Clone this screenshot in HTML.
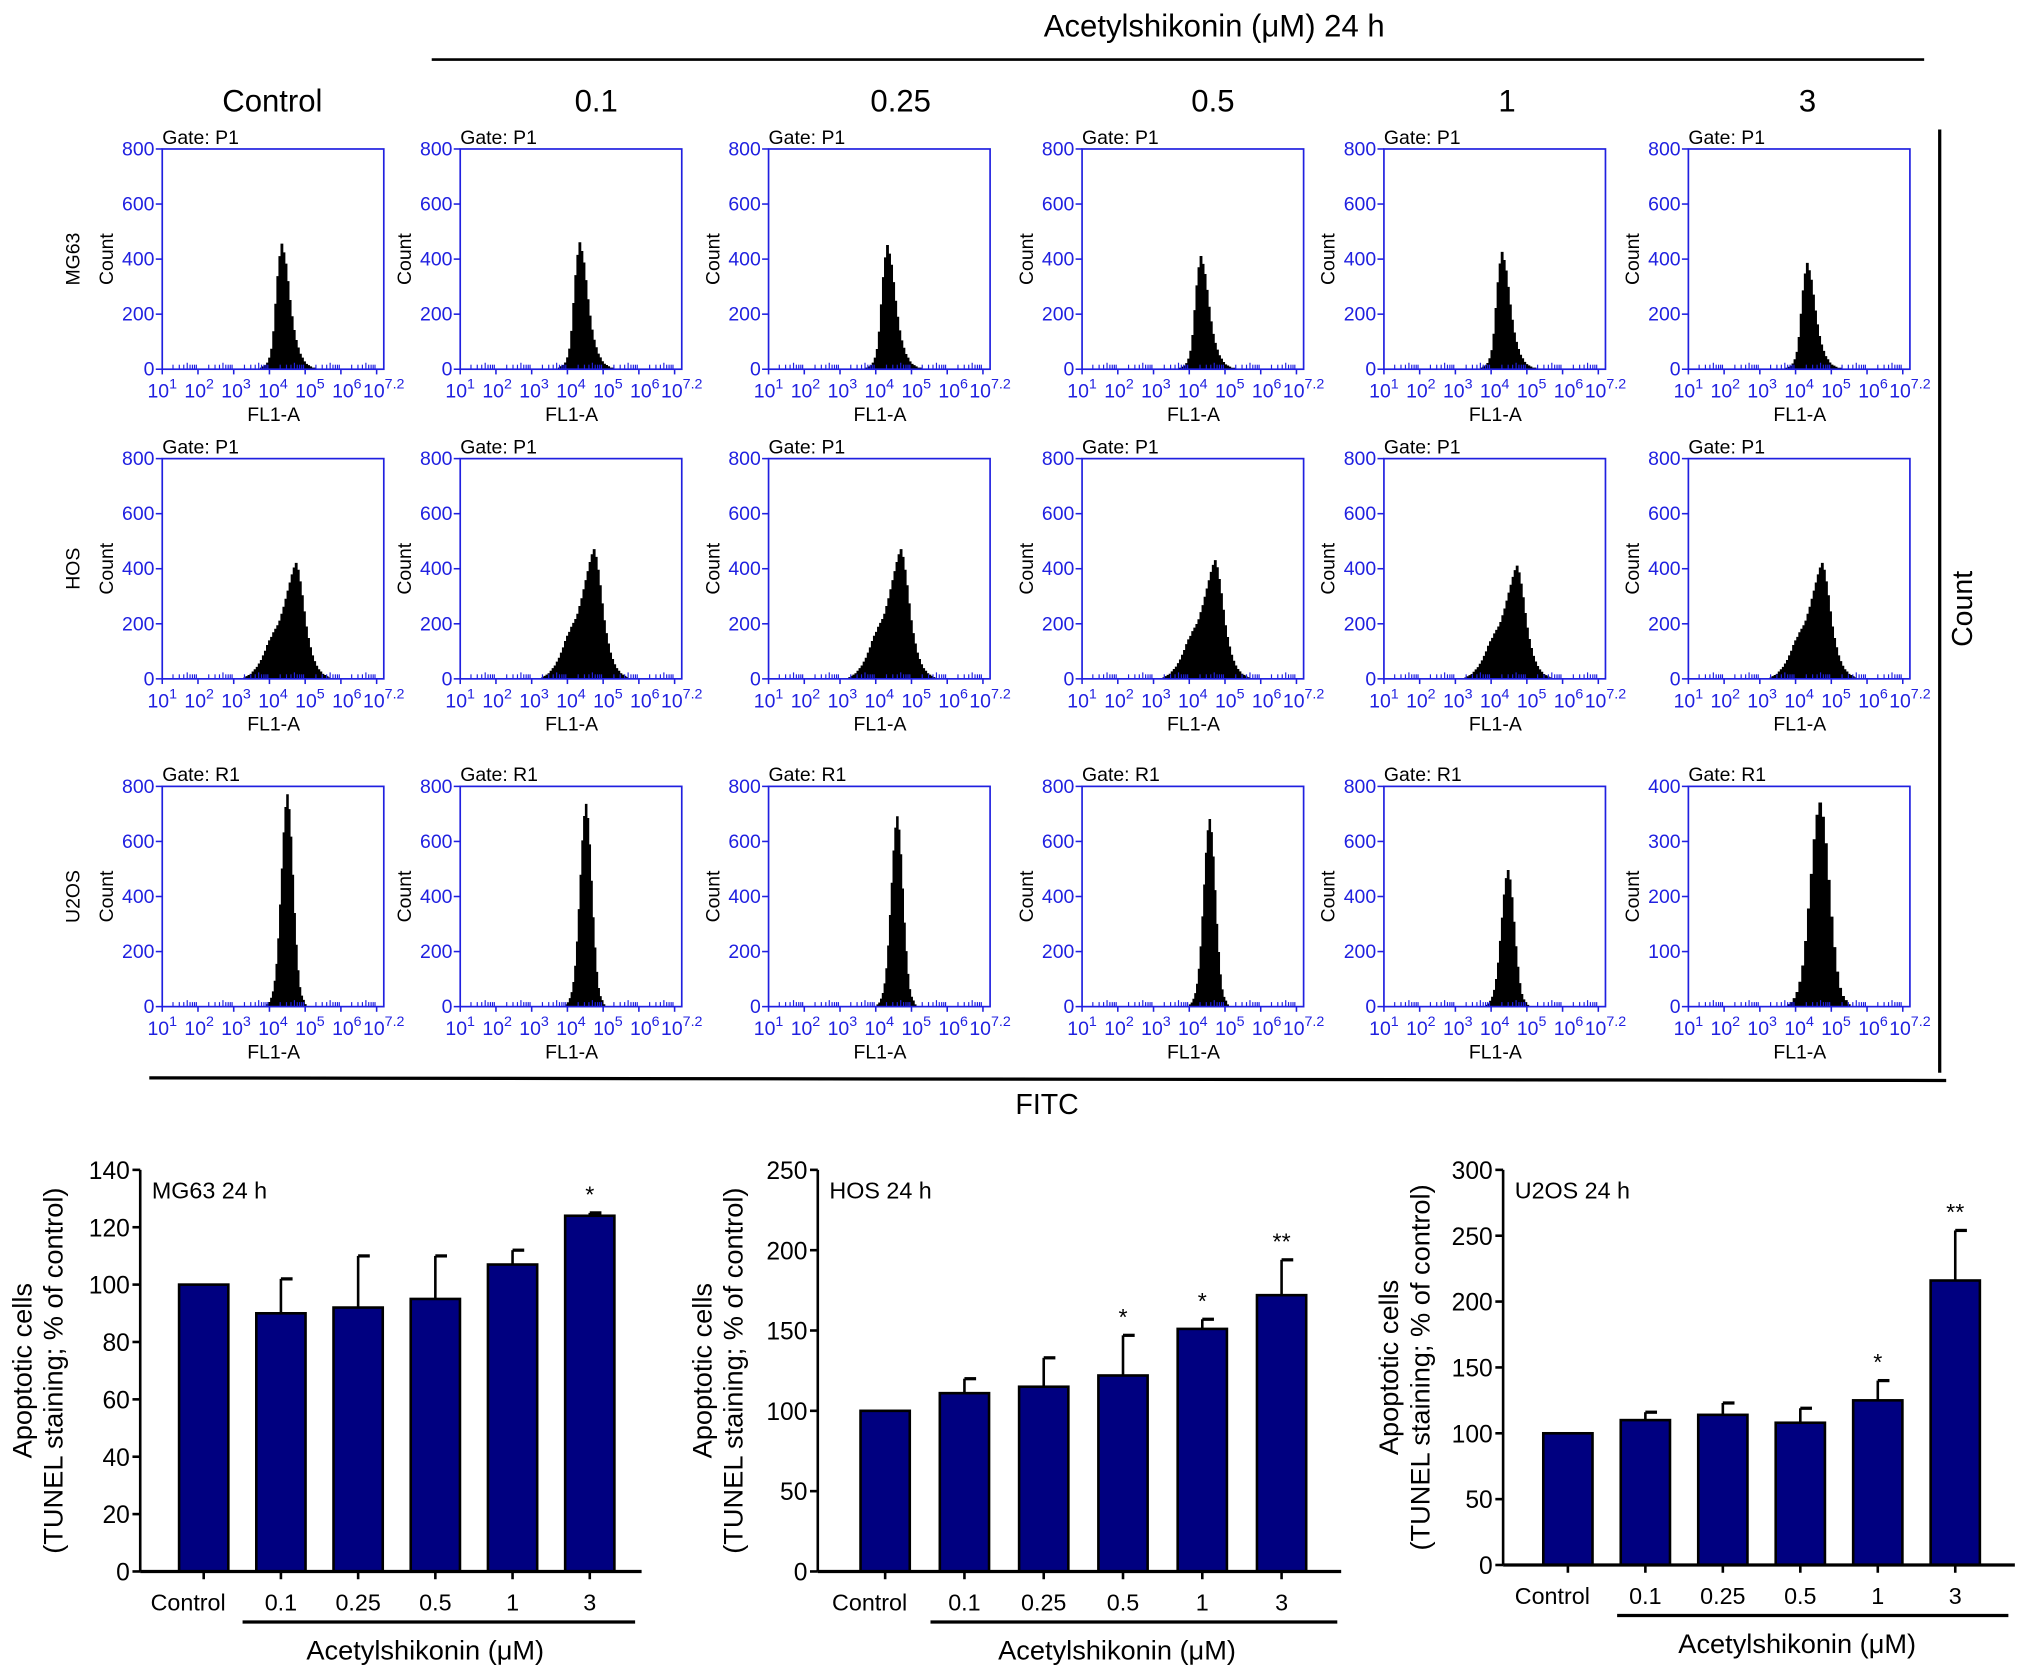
<!DOCTYPE html>
<html><head><meta charset="utf-8">
<style>
html,body{margin:0;padding:0;background:#fff;}
svg{display:block;font-family:"Liberation Sans",Arial,sans-serif;}
</style></head>
<body>
<svg id="fig" width="2032" height="1679" viewBox="0 0 1568 1296" xmlns="http://www.w3.org/2000/svg">
<text x="937" y="28" font-size="24" text-anchor="middle">Acetylshikonin (μM) 24 h</text>
<line x1="333" y1="46" x2="1485" y2="46" stroke="#000" stroke-width="2"/>
<g id="heads"></g>
<g id="hists"></g>
<line x1="1497" y1="100" x2="1497" y2="828" stroke="#000" stroke-width="2.5"/>
<text transform="translate(1522,470) rotate(-90)" font-size="22" text-anchor="middle">Count</text>
<line x1="115" y1="832" x2="1502" y2="834" stroke="#000" stroke-width="2.5"/>
<text x="808" y="860" font-size="22" text-anchor="middle">FITC</text>
<g id="bars"></g>
</svg>
<script>
const NS="http://www.w3.org/2000/svg";
const colHeads=["Control","0.1","0.25","0.5","1","3"];
const colHeadX=[210,460,695,936,1163,1395];
const cellLines=["MG63","HOS","U2OS"];
const gates=["P1","P1","R1"];
// histogram data: peak counts per panel, peak position (log10) per panel, y max per panel
const peaksMG63=[455,460,450,410,425,385];
const peaksHOS=[420,470,470,430,410,420];
const peaksU2OS=[770,735,690,680,495,370];
const centerMG63=[4.32,4.32,4.30,4.30,4.28,4.30];
const centerHOS=[4.72,4.72,4.68,4.70,4.70,4.72];
const centerU2OS=[4.48,4.50,4.58,4.55,4.45,4.65];
const ymaxU2OS=[800,800,800,800,800,400];
const widthU2OS=[1,1,1,1,1.1,1.6];
// normalized bin shapes (bins of 0.05 decade), peak index noted
const shapeMG63=[0.01,0.02,0.03,0.05,0.09,0.16,0.3,0.52,0.74,0.9,1.0,0.93,0.84,0.7,0.55,0.42,0.31,0.23,0.17,0.12,0.09,0.06,0.04,0.03,0.02,0.01,0.01];
const peakIdxMG63=10;
const shapeHOS=[0.01,0.02,0.03,0.04,0.06,0.08,0.1,0.13,0.16,0.2,0.24,0.29,0.33,0.36,0.4,0.43,0.46,0.5,0.56,0.62,0.69,0.76,0.83,0.9,0.96,1.0,0.94,0.84,0.72,0.58,0.45,0.35,0.27,0.2,0.15,0.11,0.08,0.06,0.04,0.03,0.02,0.01];
const peakIdxHOS=25;
const shapeU2OS=[0.01,0.02,0.04,0.07,0.12,0.2,0.32,0.48,0.65,0.82,0.94,1.0,0.93,0.8,0.62,0.44,0.29,0.17,0.09,0.05,0.03,0.01];
const peakIdxU2OS=11;
const xTickExp=["1","2","3","4","5","6","7.2"];

const frameLeft=[125,355,593,835,1068,1303];
const frameTop=[115,354,607];
const FW=171,FH=170,LOGMIN=1,LOGMAX=7.2,BLUE="#2020e0";

function el(tag,attrs,parent,text){const e=document.createElementNS(NS,tag);for(const k in attrs)e.setAttribute(k,attrs[k]);if(text!==undefined)e.textContent=text;parent.appendChild(e);return e;}

const heads=document.getElementById('heads');
colHeads.forEach((h,i)=>{
  const t=el('text',{x:colHeadX[i],y:86,'font-size':24,'text-anchor':'middle'},heads,h);
  
  
});

const hists=document.getElementById('hists');
const rowData=[[peaksMG63,centerMG63,shapeMG63,peakIdxMG63],[peaksHOS,centerHOS,shapeHOS,peakIdxHOS],[peaksU2OS,centerU2OS,shapeU2OS,peakIdxU2OS]];
for(let r=0;r<3;r++){
  for(let c=0;c<6;c++){
    const L=frameLeft[c],T=frameTop[r];
    const ymax=r===2?ymaxU2OS[c]:800;
    const wmul=r===2?widthU2OS[c]:1.15;
    const g=el('g',{},hists);
    
    
    const xs=v=>L+(v-LOGMIN)/(LOGMAX-LOGMIN)*FW;
    const ys=v=>T+FH-v/ymax*FH;
    const [pk,ct,sh,pi]=rowData[r];
    const bw=0.05*wmul;
    let pts=[];const x0=ct[c]-pi*bw;
    pts.push(xs(x0).toFixed(2)+','+ys(0));
    sh.forEach((v,i)=>{const xa=xs(x0+i*bw),xb=xs(x0+(i+1)*bw),y=ys(v*pk[c]);pts.push(xa.toFixed(2)+','+y.toFixed(2));pts.push(xb.toFixed(2)+','+y.toFixed(2));});
    pts.push(xs(x0+sh.length*bw).toFixed(2)+','+ys(0));
    const poly=el('polygon',{points:pts.join(' '),fill:'#000',stroke:'#000','stroke-width':0.6},g);
    
    
    const fr=el('rect',{x:L,y:T,width:FW,height:FH,fill:'none',stroke:BLUE,'stroke-width':1.3},g);
    
    
    const step=ymax/4;
    for(let k=0;k<=4;k++){
      const v=k*step,y=ys(v);
      el('line',{x1:L-5,y1:y,x2:L,y2:y,stroke:BLUE,'stroke-width':1.2},g);
      const t=el('text',{x:L-6,y:y+5,'font-size':15,fill:BLUE,'text-anchor':'end'},g,String(v));
      
      
    }
    for(let d=1;d<=7;d++){
      el('line',{x1:xs(d),y1:T+FH,x2:xs(d),y2:T+FH+4,stroke:BLUE,'stroke-width':1.2},g);
      for(let m=2;m<=9;m++){const lv=d+Math.log10(m);if(lv<LOGMAX){el('line',{x1:xs(lv),y1:T+FH,x2:xs(lv),y2:T+FH-(m===5?5:3.5),stroke:BLUE,'stroke-width':0.9},g);}}
    }
    xTickExp.forEach((e,k)=>{
      const xc=L+k*FW/6;
      const t=el('text',{x:xc,y:T+FH+22,'font-size':15,fill:BLUE,'text-anchor':'middle'},g);
      
      
      el('tspan',{},t,'10');
      el('tspan',{dy:-7,'font-size':11},t,e);
    });
    const xl=el('text',{x:L+86,y:T+FH+40,'font-size':15,'text-anchor':'middle'},g,'FL1-A');
    
    
    const gl=el('text',{x:L,y:T-4,'font-size':15},g,'Gate: '+gates[r]);
    
    
    const cl=el('text',{transform:'translate('+(L-38)+','+(T+FH/2)+') rotate(-90)','font-size':15,'text-anchor':'middle'},g,'Count');
    
    
    if(c===0){
      const rl=el('text',{transform:'translate('+(L-64)+','+(T+FH/2)+') rotate(-90)','font-size':15,'text-anchor':'middle'},g,cellLines[r]);
      
      
    }
  }
}

// bar charts
const barCats=["Control","0.1","0.25","0.5","1","3"];
const valsMG63=[100,90,92,95,107,124];
const errMG63=[0,12,18,15,5,1];
const starsMG63=["","","","","","*"];
const valsHOS=[100,111,115,122,151,172];
const errHOS=[0,9,18,25,6,22];
const starsHOS=["","","","*","*","**"];
const valsU2OS=[100,110,114,108,125,216];
const errU2OS=[0,6,9,11,15,38];
const starsU2OS=["","","","","*","**"];
const ticksMG63=[0,20,40,60,80,100,120,140];
const ticksHOS=[0,50,100,150,200,250];
const ticksU2OS=[0,50,100,150,200,250,300];

const charts=[
 {name:'mg63',label:'MG63 24 h',vals:valsMG63,err:errMG63,stars:starsMG63,ticks:ticksMG63,ax:108,axEnd:495,y0:1213,yTop:903,lx:[22,46],brk:[187,490],titleX:328,off:49,sp:59.6},
 {name:'hos',label:'HOS 24 h',vals:valsHOS,err:errHOS,stars:starsHOS,ticks:ticksHOS,ax:631,axEnd:1035,y0:1213,yTop:903,lx:[547,571],brk:[718,1032],titleX:862,off:52,sp:61.2},
 {name:'u2os',label:'U2OS 24 h',vals:valsU2OS,err:errU2OS,stars:starsU2OS,ticks:ticksU2OS,ax:1160,axEnd:1555,y0:1208,yTop:903,lx:[1077,1101],brk:[1248,1550],titleX:1387,off:50,sp:59.8}
];
const barsG=document.getElementById('bars');
charts.forEach(ch=>{
  const g=el('g',{},barsG);
  
  
  const tmax=ch.ticks[ch.ticks.length-1];
  const ys=v=>ch.y0-v/tmax*(ch.y0-ch.yTop);
  const xc=i=>ch.ax+ch.off+ch.sp*i;
  const bw=38;
  ch.vals.forEach((v,i)=>{
    const x=xc(i);
    if(ch.err[i]>0){
      const e=el('line',{x1:x,y1:ys(v),x2:x,y2:ys(v+ch.err[i]),stroke:'#000','stroke-width':2},g);
      
      
      el('line',{x1:x,y1:ys(v+ch.err[i]),x2:x+9,y2:ys(v+ch.err[i]),stroke:'#000','stroke-width':2.5},g);
    }
    const b=el('rect',{x:x-bw/2,y:ys(v),width:bw,height:ch.y0-ys(v),fill:'#000080',stroke:'#000','stroke-width':2},g);
    
    
    if(ch.stars[i]){
      const s=el('text',{x:x,y:ys(v+ch.err[i])-8,'font-size':18,'text-anchor':'middle'},g,ch.stars[i]);
      
      
    }
    el('line',{x1:x,y1:ch.y0,x2:x,y2:ch.y0+6,stroke:'#000','stroke-width':2},g);
    const t=el('text',{x:x-(i===0?12:0),y:ch.y0+30,'font-size':18,'text-anchor':'middle'},g,barCats[i]);
    
    
  });
  el('line',{x1:ch.ax,y1:ch.y0,x2:ch.axEnd,y2:ch.y0,stroke:'#000','stroke-width':2.5},g);
  el('line',{x1:ch.ax,y1:ch.y0,x2:ch.ax,y2:ch.yTop,stroke:'#000','stroke-width':2},g);
  ch.ticks.forEach(v=>{
    el('line',{x1:ch.ax-6,y1:ys(v),x2:ch.ax,y2:ys(v),stroke:'#000','stroke-width':2},g);
    const t=el('text',{x:ch.ax-8,y:ys(v)+7,'font-size':19,'text-anchor':'end'},g,String(v));
    
    
  });
  const lb=el('text',{x:ch.ax+9,y:ch.yTop+22,'font-size':18},g,ch.label);
  
  
  const midY=(ch.y0+ch.yTop)/2;
  const y1=el('text',{transform:'translate('+(ch.lx[0]+2)+','+midY+') rotate(-90)','font-size':21,'text-anchor':'middle'},g,'Apoptotic cells');
  
  
  const y2=el('text',{transform:'translate('+(ch.lx[1]+2)+','+midY+') rotate(-90)','font-size':21,'text-anchor':'middle'},g,'(TUNEL staining; % of control)');
  
  
  el('line',{x1:ch.brk[0],y1:ch.y0+39,x2:ch.brk[1],y2:ch.y0+39,stroke:'#000','stroke-width':2.5},g);
  const xt=el('text',{x:ch.titleX,y:ch.y0+68,'font-size':21,'text-anchor':'middle'},g,'Acetylshikonin (μM)');
  
  
});
</script>
</body></html>
